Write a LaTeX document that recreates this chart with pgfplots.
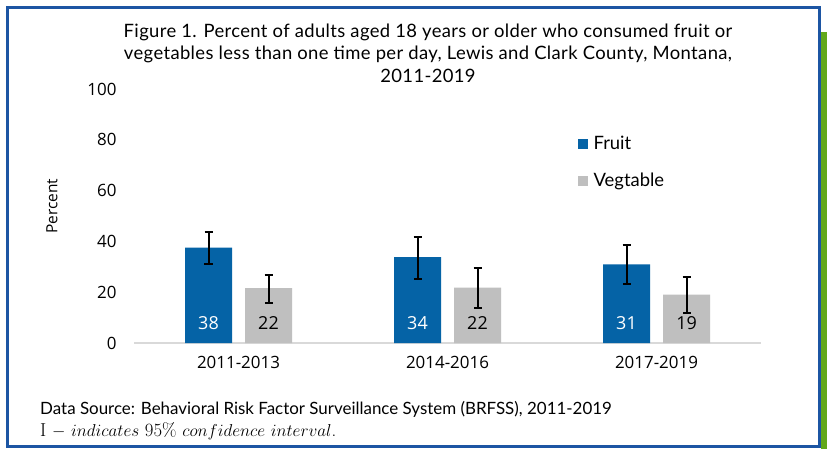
\documentclass[border=0pt]{standalone}
\usepackage{pgfplots}
\pgfplotsset{compat=1.18}
\usepackage{pgfplotstable}
\usepackage{fontspec}
\setmainfont{Lato}
\newfontfamily\titlefont[LetterSpace=2]{Lato}
\newfontfamily\tickfont{Open Sans}
\newfontfamily\lmr{Latin Modern Roman}
\definecolor{fruitblue}{HTML}{0563A6}
\definecolor{veggray}{HTML}{BFBFBF}
\definecolor{frameblue}{HTML}{1C55A3}
\definecolor{stripgreen}{HTML}{62A81A}
\definecolor{axgray}{HTML}{D9D9D9}

\pgfplotstableread{
x y ep em lab
0 37.6 6.0 6.4 38
1 33.8 7.9 8.6 34
2 31.0 7.7 7.9 31
}\fruit
\pgfplotstableread{
x y ep em lab
0 21.6 5.2 5.8 22
1 21.8 7.7 7.9 22
2 19.0 6.9 7.0 19
}\veg
\pgfplotstableread{
x y lab
0 8 38
1 8 34
2 8 31
}\fruitlab
\pgfplotstableread{
x y lab
0 8 22
1 8 22
2 8 19
}\veglab

\begin{document}
\begin{tikzpicture}
\path[use as bounding box] (0,0) rectangle (827bp,-449bp);
\fill[white] (0,0) rectangle (827bp,-449bp);
\fill[stripgreen] (820.5bp,-32bp) rectangle (827bp,-449bp);
\draw[frameblue, line width=2.7bp] (7.2bp,-7.2bp) rectangle (819.7bp,-446.2bp);

\node[align=center, font=\titlefont\fontsize{18.5}{22.6}\selectfont] at (428bp,-53bp)
 {Figure 1. Percent of adults aged 18 years or older who consumed fruit or\\
  vegetables less than one time per day, Lewis and Clark County, Montana,\\
  2011-2019};

\begin{axis}[
  at={(134bp,-343bp)}, anchor=south west,
  width=627bp, height=254bp, scale only axis,
  xmin=-0.5, xmax=2.5, ymin=0, ymax=100,
  axis x line=bottom, axis y line=left,
  x axis line style={axgray, line width=1.3bp, -},
  y axis line style={draw=none},
  major tick length=0pt,
  ytick={0,20,...,100},
  xtick={0,1,2},
  xticklabels={2011-2013,2014-2016,2017-2019},
  /pgf/number format/assume math mode=true,
  tick label style={font=\tickfont\fontsize{17}{20}\selectfont},
  yticklabel style={xshift=-14bp},
  xticklabel style={yshift=-10bp},
  ylabel={Percent},
  every axis y label/.style={at={(axis description cs:-0.131,0.539)}, rotate=90, anchor=center, font=\tickfont\fontsize{15.5}{18}\selectfont},
  ybar, bar width=47bp,
  legend style={draw=none, fill=none, at={(0.708,0.815)}, anchor=north west,
    font=\fontsize{18.5}{22}\selectfont, row sep=22bp, inner sep=0pt,
    nodes={inner xsep=6bp, inner ysep=0pt}},
  legend cell align=left,
  legend image code/.code={\fill[#1, draw=none] (0bp,-5bp) rectangle (9.5bp,5bp);},
  error bars/y dir=both, error bars/y explicit,
  error bars/error bar style={black, line width=2bp},
  error bars/error mark options={black, line width=2bp, mark size=4bp, rotate=90},
]
\addplot[fill=fruitblue, draw=none, bar shift=-30bp]
  table[x=x, y=y, y error plus=ep, y error minus=em] {\fruit};
\addlegendentry{Fruit}
\addplot[fill=veggray, draw=none, bar shift=30bp]
  table[x=x, y=y, y error plus=ep, y error minus=em] {\veg};
\addlegendentry{Vegtable}
\addplot[draw=none, fill=none, bar shift=-30bp, forget plot,
  nodes near coords, point meta=explicit symbolic,
  every node near coord/.append style={anchor=center, white, font=\tickfont\fontsize{18}{20}\selectfont}]
  table[x=x, y=y, meta=lab] {\fruitlab};
\addplot[draw=none, fill=none, bar shift=30bp, forget plot,
  nodes near coords, point meta=explicit symbolic,
  every node near coord/.append style={anchor=center, black, font=\tickfont\fontsize{18}{20}\selectfont}]
  table[x=x, y=y, meta=lab] {\veglab};
\end{axis}

\node[anchor=base west, inner sep=0pt, font=\fontsize{17}{20}\selectfont] at (40bp,-414bp)
 {Data Source: Behavioral Risk Factor Surveillance System (BRFSS), 2011-2019};
\node[anchor=base west, inner sep=0pt, font=\lmr\fontsize{18.8}{20}\selectfont] at (40bp,-436bp)
 {I $-$ $indicates$ 95\% $confidence$ $interval$.};
\end{tikzpicture}
\end{document}
